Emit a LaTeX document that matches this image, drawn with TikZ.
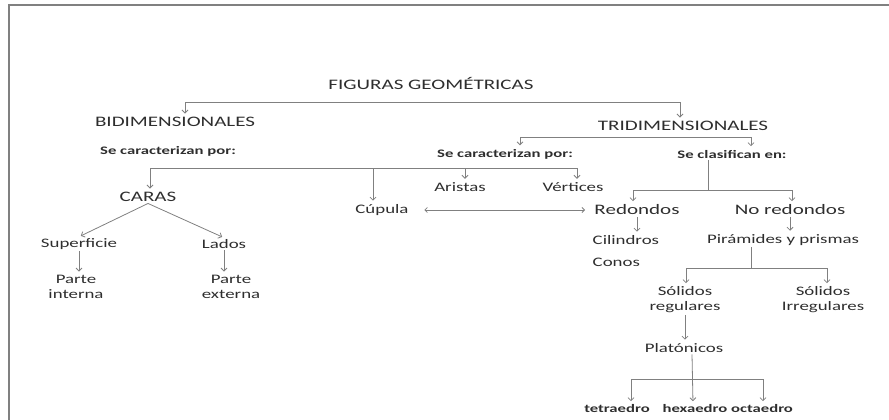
\documentclass[tikz,border=0pt]{standalone}
\usepackage{fontspec}
\setmainfont{Carlito}[FakeStretch=1.45]
\usetikzlibrary{arrows.meta}
\definecolor{linegray}{HTML}{808080}
\definecolor{textgray}{HTML}{2E2E2E}
\tikzset{
	big/.style={inner sep=1.5pt,text=textgray,font=\fontsize{14.5}{16}\selectfont},
	mid/.style={inner sep=1.5pt,text=textgray,align=center,font=\fontsize{13}{15}\selectfont},
	small/.style={inner sep=1.5pt,text=textgray,font=\fontsize{11.5}{14}\selectfont\bfseries},
	link/.style={draw=linegray,line width=0.8pt},
	tip/.style={link,shorten >=2pt,-{Straight Barb[length=3pt,width=6pt]}},
	both/.style={link,{Straight Barb[length=2.5pt,width=5pt]}-{Straight Barb[length=2.5pt,width=5pt]}}
}
\begin{document}
\begin{tikzpicture}[x=1pt,y=-1pt]
	\useasboundingbox (0,0) rectangle (889,420);
	\draw[line width=2pt,draw=gray] (9,421) -- (9,5) -- (890,5);
	\node[big] (fig) at (431,83) {FIGURAS GEOMÉTRICAS};
	\node[big] (bidi) at (175,122) {BIDIMENSIONALES};
	\node[big] (tri) at (683,126) {TRIDIMENSIONALES};
	\node[small] (carpor1) at (168,151) {Se caracterizan por:};
	\node[small] (carpor2) at (505,154) {Se caracterizan por:};
	\node[small] (clas) at (732,154) {Se clasifican en:};
	\node[big] (caras) at (148,197) {CARAS};
	\node[mid] (cupula) at (382,210) {Cúpula};
	\node[mid] (aristas) at (460,187) {Aristas};
	\node[mid] (vertices) at (573,187) {Vértices};
	\node[big] (redondos) at (637,210) {Redondos};
	\node[big] (noredondos) at (790,210) {No redondos};
	\node[mid] (superficie) at (79,244) {Superficie};
	\node[mid] (lados) at (224,244) {Lados};
	\node[mid] (interna) at (76,287) {Parte\\interna};
	\node[mid] (externa) at (231,287) {Parte\\externa};
	\node[mid,anchor=west] (cilindros) at (591,240) {Cilindros};
	\node[mid,anchor=west] (conos) at (591,262) {Conos};
	\node[mid] (piramides) at (783,240) {Pirámides y prismas};
	\node[mid] (solreg) at (685,300) {Sólidos\\regulares};
	\node[mid] (solirr) at (823,300) {Sólidos\\Irregulares};
	\node[mid] (platonicos) at (684,348) {Platónicos};
	\node[small] (tetra) at (617,409) {tetraedro};
	\node[small] (hexa) at (695,409) {hexaedro};
	\node[small] (octa) at (762,409) {octaedro};
	\coordinate (f1) at (185,102);
	\coordinate (f2) at (680,102);
	\draw[link] (f1) -- (f2);
	\draw[tip] (f1) -- (f1 |- bidi.north);
	\draw[tip] (f2) -- (f2 |- tri.north);
	\coordinate (t1) at (520,137);
	\coordinate (t2) at (751,137);
	\draw[link] (t1) -- (t2);
	\draw[tip] (t1) -- (t1 |- carpor2.north);
	\draw[tip] (t2) -- (t2 |- clas.north);
	\coordinate (c1) at (150,168);
	\coordinate (c2) at (373,168);
	\coordinate (c3) at (465,168);
	\coordinate (c4) at (577,168);
	\draw[link] (c1) -- (c4);
	\draw[tip] (c1) -- (c1 |- caras.north);
	\draw[tip] (c2) -- (c2 |- cupula.north);
	\draw[tip] (c3) -- (c3 |- aristas.north);
	\draw[tip] (c4) -- (c4 |- vertices.north);
	\coordinate (k0) at (708,190);
	\coordinate (k1) at (633,190);
	\coordinate (k2) at (792,190);
	\draw[link] (k0 |- clas.south) -- (k0);
	\draw[link] (k1) -- (k2);
	\draw[tip] (k1) -- (k1 |- redondos.north);
	\draw[tip] (k2) -- (k2 |- noredondos.north);
	\draw[both] (cupula.east) ++(14,0) coordinate (d1) -- (redondos.west -| 585,0) coordinate (d2);
	\draw[tip] (caras.south) -- (superficie.north);
	\draw[tip] (caras.south) -- (lados.north);
	\draw[tip] (superficie.south) -- (superficie.south |- interna.north);
	\draw[tip] (lados.south) -- (lados.south |- externa.north);
	\draw[tip] (redondos.south) -- (redondos.south |- cilindros.north);
	\draw[tip] (noredondos.south) -- (noredondos.south |- piramides.north);
	\coordinate (p0) at (751,268);
	\coordinate (p1) at (686,268);
	\coordinate (p2) at (827,268);
	\draw[link] (p0 |- piramides.south) -- (p0);
	\draw[link] (p1) -- (p2);
	\draw[tip] (p1) -- (p1 |- solreg.north);
	\draw[tip] (p2) -- (p2 |- solirr.north);
	\draw[tip] (solreg.south) -- (solreg.south |- platonicos.north);
	\coordinate (q1) at (631,379);
	\coordinate (q2) at (763,379);
	\draw[link] (q1) -- (q2);
	\draw[tip] (q1) -- (q1 |- tetra.north);
	\draw[tip] (q2) -- (q2 |- octa.north);
	\draw[tip] ([xshift=8pt]platonicos.south) -- ([xshift=-2pt]hexa.north);
\end{tikzpicture}
\end{document}
